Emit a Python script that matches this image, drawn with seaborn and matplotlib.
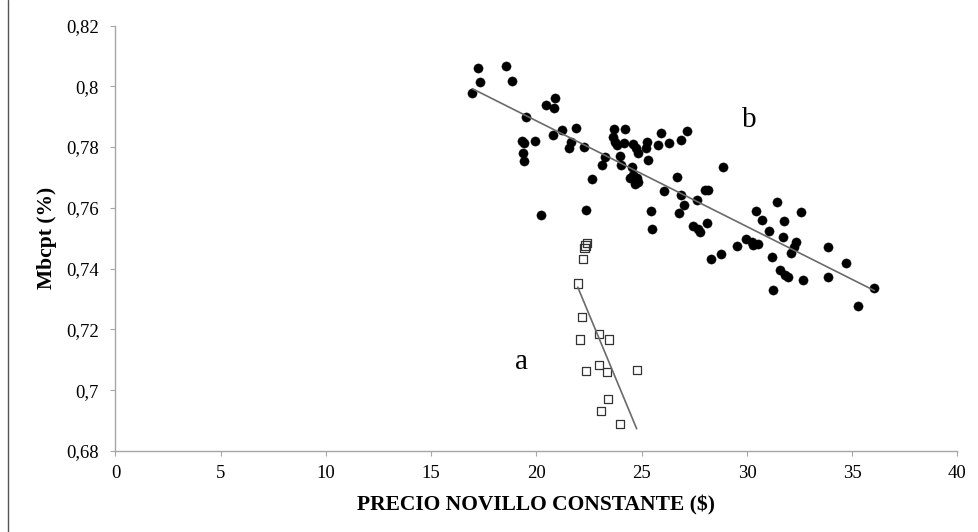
import numpy as np
import pandas as pd
import matplotlib
matplotlib.use("Agg")
import matplotlib.pyplot as plt
import seaborn as sns
from matplotlib.ticker import FuncFormatter, FixedLocator
from matplotlib.lines import Line2D

# ---- data ----
b_precio = [17.21, 18.55, 17.32, 18.82, 16.95, 20.44, 20.88, 20.85, 19.49, 21.20,
            21.86, 20.77, 19.30, 19.42, 19.93, 21.64, 21.54, 22.27, 19.34, 19.42,
            22.65, 20.21, 22.34, 23.70, 24.20, 23.62, 23.73, 23.81, 24.17, 24.60,
            24.74, 24.84, 25.24, 25.20, 25.31, 25.90, 25.79, 26.29, 26.86, 27.16,
            23.25, 23.10, 23.97, 24.00, 24.52, 24.60, 24.76, 24.84, 24.68, 24.44,
            26.66, 26.06, 26.85, 27.64, 28.00, 28.16, 27.01, 26.78, 25.44, 25.49,
            27.45, 27.69, 27.77, 28.09, 28.87, 31.41, 30.43, 32.57, 30.70, 31.76,
            31.06, 31.70, 29.95, 30.22, 30.30, 30.54, 29.51, 32.33, 32.25, 32.09,
            33.86, 31.17, 28.28, 28.75, 31.57, 31.81, 31.96, 32.67, 33.86, 31.25,
            34.69, 36.05, 35.29]
b_mbcpt = [0.8059, 0.8067, 0.8015, 0.8018, 0.7979, 0.7938, 0.7960, 0.7929, 0.7898, 0.7856,
           0.7863, 0.7839, 0.7821, 0.7814, 0.7821, 0.7817, 0.7798, 0.7801, 0.7782, 0.7754,
           0.7694, 0.7578, 0.7592, 0.7858, 0.7861, 0.7834, 0.7817, 0.7807, 0.7814, 0.7809,
           0.7796, 0.7779, 0.7817, 0.7796, 0.7757, 0.7845, 0.7807, 0.7812, 0.7823, 0.7854,
           0.7766, 0.7741, 0.7770, 0.7741, 0.7733, 0.7708, 0.7697, 0.7686, 0.7680, 0.7697,
           0.7702, 0.7656, 0.7642, 0.7625, 0.7658, 0.7658, 0.7609, 0.7582, 0.7590, 0.7532,
           0.7540, 0.7532, 0.7521, 0.7549, 0.7733, 0.7620, 0.7590, 0.7587, 0.7560, 0.7556,
           0.7524, 0.7505, 0.7496, 0.7488, 0.7477, 0.7481, 0.7474, 0.7488, 0.7472, 0.7452,
           0.7470, 0.7439, 0.7433, 0.7448, 0.7395, 0.7378, 0.7373, 0.7362, 0.7373, 0.7331,
           0.7417, 0.7337, 0.7276]

a_precio = [22.38, 22.33, 22.28, 22.22, 21.96, 22.18, 22.07, 22.98, 23.46, 22.97,
            22.34, 23.36, 24.76, 23.41, 23.06, 23.97]
a_mbcpt = [0.7485, 0.7476, 0.7467, 0.7433, 0.7351, 0.7241, 0.7167, 0.7184, 0.7167, 0.7082,
           0.7063, 0.7060, 0.7066, 0.6972, 0.6932, 0.6888]

x_ticks = [0, 5, 10, 15, 20, 25, 30, 35, 40]
y_ticks = [0.68, 0.70, 0.72, 0.74, 0.76, 0.78, 0.80, 0.82]
x_label = "PRECIO NOVILLO CONSTANTE ($)"
y_label = "Mbcpt (%)"
group_labels = ["a", "b"]

df_b = pd.DataFrame({"precio": b_precio, "mbcpt": b_mbcpt})
df_a = pd.DataFrame({"precio": a_precio, "mbcpt": a_mbcpt})

sns.set_theme(style="white")
plt.rcParams['font.family'] = ['Liberation Serif', 'DejaVu Serif']

W, H = 979, 532
fig = plt.figure(figsize=(W / 100, H / 100), dpi=100)
fig.patch.set_facecolor("white")
ax = fig.add_axes([115.5 / W, 1 - 451 / H, 842 / W, 425.5 / H])
ax.set_facecolor("white")

# scatter points
sns.scatterplot(data=df_b, x="precio", y="mbcpt", ax=ax, color="black",
                marker="o", s=44, edgecolor="black", linewidth=0.3, zorder=3)
sns.scatterplot(data=df_a, x="precio", y="mbcpt", ax=ax, marker="s", s=34,
                facecolors="none", edgecolor="#333333", linewidth=0.9, zorder=3)

# linear trendlines (OLS on each group, over the data range)
for df in (df_b, df_a):
    sns.regplot(data=df, x="precio", y="mbcpt", ax=ax, scatter=False, ci=None,
                truncate=True, color="#6a6a6a", line_kws={"linewidth": 1.2, "zorder": 4})

ax.set_xlim(x_ticks[0], x_ticks[-1])
ax.set_ylim(y_ticks[0], y_ticks[-1])
ax.xaxis.set_major_locator(FixedLocator(x_ticks))
ax.yaxis.set_major_locator(FixedLocator(y_ticks))
ax.yaxis.set_major_formatter(FuncFormatter(
    lambda v, _: f"{v:.2f}".rstrip("0").rstrip(".").replace(".", ",")))
ax.xaxis.set_major_formatter(FuncFormatter(lambda v, _: f"{v:g}"))

for side in ("top", "right"):
    ax.spines[side].set_visible(False)
for side in ("left", "bottom"):
    ax.spines[side].set_color("#a6a6a6")
    ax.spines[side].set_linewidth(1.0)

ax.tick_params(axis="both", direction="out", length=3.8, width=0.8, color="#a6a6a6",
               labelsize=13.5, labelcolor="black")
ax.tick_params(axis="x", pad=6.5, bottom=True)
ax.tick_params(axis="y", pad=8, left=True)

ax.set_xlabel(x_label, fontsize=15.5, fontweight="bold", color="black")
ax.set_ylabel(y_label, fontsize=15.5, fontweight="bold", color="black")
ax.xaxis.set_label_coords(0.5, -0.105)
ax.yaxis.set_label_coords(-0.069, 0.5)
ax.grid(False)

# group labels
ax.text(19.31, 0.7092, group_labels[0], fontsize=21, ha="center", va="center", color="black")
ax.text(30.1, 0.7889, group_labels[1], fontsize=21, ha="center", va="center", color="black")

# left page border line
fig.add_artist(Line2D([8.5 / W, 8.5 / W], [0, 1], transform=fig.transFigure,
                      color="#555555", linewidth=1.0))

fig.savefig("out.png", dpi=100, facecolor="white")
